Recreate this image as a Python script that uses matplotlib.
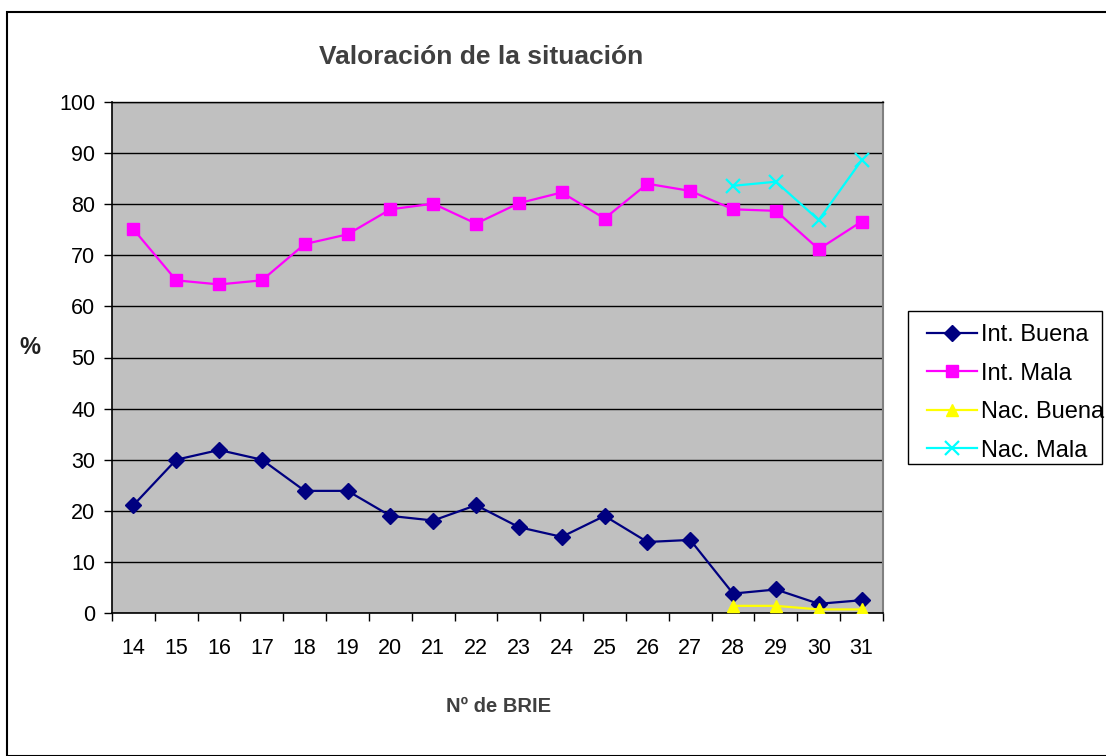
import numpy as np
import matplotlib
matplotlib.use("Agg")
import matplotlib.pyplot as plt
from matplotlib.patches import Rectangle

plt.rcParams['font.family'] = ['Liberation Sans', 'DejaVu Sans']

categories = ["14", "15", "16", "17", "18", "19", "20", "21", "22", "23",
              "24", "25", "26", "27", "28", "29", "30", "31"]
int_buena = [21.1, 30.0, 31.9, 30.0, 23.9, 23.9, 19.0, 18.1, 21.1, 16.8,
             14.9, 19.0, 13.9, 14.3, 3.8, 4.6, 1.8, 2.5]
int_mala = [75.1, 65.1, 64.3, 65.1, 72.2, 74.1, 79.0, 80.1, 76.2, 80.2,
            82.3, 77.2, 84.0, 82.6, 79.0, 78.7, 71.2, 76.6]
nan = np.nan
nac_buena = [nan] * 14 + [1.4, 1.4, 0.7, 0.7]
nac_mala = [nan] * 14 + [83.6, 84.4, 76.9, 88.6]
series_names = ["Int. Buena", "Int. Mala", "Nac. Buena", "Nac. Mala"]
yticks = list(range(0, 101, 10))

W, H = 1106, 756
fig = plt.figure(figsize=(W / 100, H / 100), dpi=100)
fig.patch.set_facecolor("white")

# outer chart border
fig.patches.append(Rectangle((7 / W, 0), 1.2, 1 - 12 / H, transform=fig.transFigure,
                             fill=False, edgecolor="black", linewidth=1.5))

L, R, T, B = 112, 883, 102, 613
ax = fig.add_axes([L / W, 1 - B / H, (R - L) / W, (B - T) / H])
ax.set_facecolor("#C0C0C0")

x = np.arange(len(categories))
ax.plot(x, int_buena, color="#000080", marker="D", markersize=8, linewidth=1.6,
        label=series_names[0], zorder=3)
ax.plot(x, int_mala, color="#FF00FF", marker="s", markersize=8, linewidth=1.6,
        label=series_names[1], zorder=3)
ax.plot(x, nac_buena, color="#FFFF00", marker="^", markersize=9, linewidth=1.6,
        label=series_names[2], zorder=3)
ax.plot(x, nac_mala, color="#00FFFF", marker="x", markersize=9.5, markeredgewidth=1.6,
        linewidth=1.6, label=series_names[3], zorder=3)

ax.set_xlim(-0.5, len(categories) - 0.5)
ax.set_ylim(0, 100)
ax.set_yticks(yticks)
ax.set_yticklabels([str(v) for v in yticks], fontsize=15.5)
ax.set_xticks(x)
ax.set_xticklabels(categories, fontsize=15.5)
ax.tick_params(axis="x", which="major", length=0, pad=18)
ax.set_xticks(np.arange(len(categories) + 1) - 0.5, minor=True)
ax.tick_params(axis="x", which="minor", length=6, width=1, direction="out")
ax.tick_params(axis="y", length=6, width=1, direction="out", pad=6)
ax.yaxis.grid(True, color="black", linewidth=1.0)
ax.set_axisbelow(True)

for s in ["left", "bottom"]:
    ax.spines[s].set_color("black")
    ax.spines[s].set_linewidth(1.2)
ax.spines["right"].set_color("#808080")
ax.spines["right"].set_linewidth(1.5)
ax.spines["top"].set_color("black")
ax.spines["top"].set_linewidth(1.0)

fig.text(481 / W, 1 - 57 / H, "Valoración de la situación", ha="center", va="center",
         fontsize=19, fontweight="bold", color="#404040")
fig.text(499 / W, 1 - 706 / H, "Nº de BRIE", ha="center", va="center",
         fontsize=14.5, fontweight="bold", color="#404040")
fig.text(30 / W, 1 - 348 / H, "%", ha="center", va="center",
         fontsize=17, fontweight="bold", color="#202020")

# legend frame
fig.patches.append(Rectangle((908 / W, 1 - 464 / H), (1102 - 908) / W, (464 - 311) / H,
                             transform=fig.transFigure, fill=True, facecolor="white",
                             edgecolor="black", linewidth=1.0, zorder=1))
leg = fig.legend(loc="upper left", bbox_to_anchor=(927 / W, 1 - 324 / H),
                 frameon=False, fontsize=17, handlelength=2.1, handletextpad=0.2,
                 labelspacing=0.7, borderpad=0.0, borderaxespad=0.0)
leg.set_zorder(5)

fig.savefig("out.png", dpi=100)
